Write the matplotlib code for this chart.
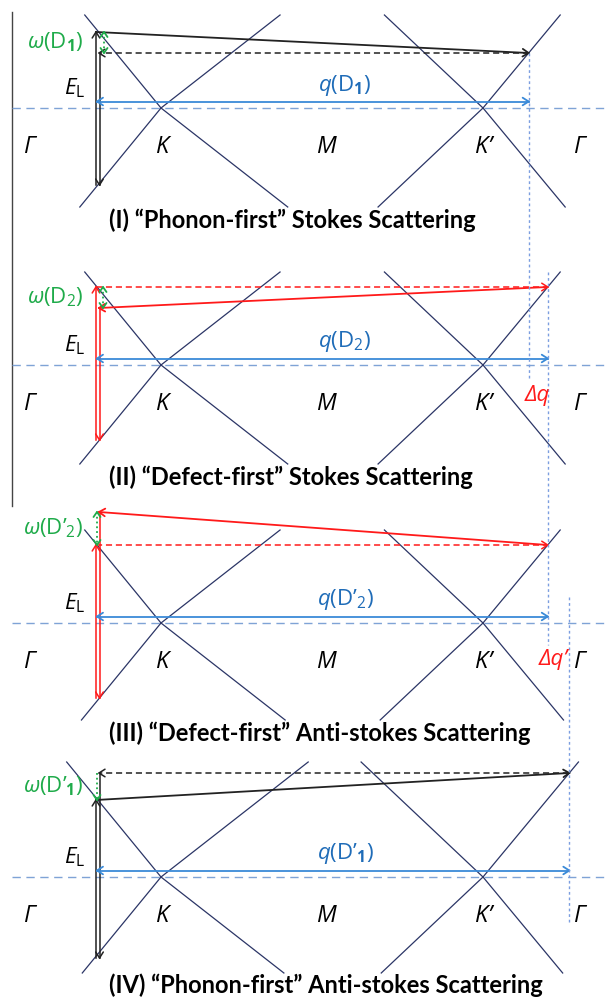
import numpy as np
import matplotlib.pyplot as plt

plt.rcParams['mathtext.fontset'] = 'custom'
plt.rcParams['mathtext.rm'] = 'Open Sans'
plt.rcParams['mathtext.it'] = 'Open Sans:italic'
plt.rcParams['mathtext.bf'] = 'Open Sans:bold'

# four panels, pixel units; energies are heights above each panel's dashed axis
titles = ['(I) “Phonon-first” Stokes Scattering',
          '(II) “Defect-first” Stokes Scattering',
          '(III) “Defect-first” Anti-stokes Scattering',
          '(IV) “Phonon-first” Anti-stokes Scattering']
omega_labels = [r'$\omega(\mathrm{D}_\mathbf{1})$', r'$\omega(\mathrm{D}_2)$',
                r'$\omega(\mathrm{D’}_2)$', r'$\omega(\mathrm{D’}_\mathbf{1})$']
q_labels = [r'$q(\mathrm{D}_\mathbf{1})$', r'$q(\mathrm{D}_2)$',
            r'$q(\mathrm{D’}_2)$', r'$q(\mathrm{D’}_\mathbf{1})$']
dq_labels = [None, 'Δq', 'Δq’', None]
point_labels = ['Γ', 'K', 'M', 'K’', 'Γ']

axis_y = [108, 365, 623, 877]
e_exc = [76, 78, 78, 77]        # laser excitation level
e_scat = [55, 57, 111, 104]     # level after phonon emission / absorption
e_bottom = [77, 75, 75, 81]     # valence level
defect_first = [False, True, True, False]
cone_top = [93, 93, 93, 115]
cone_bot = [99, 99, 97, 96]

# cone geometry: x of K, K' and horizontal/vertical ratio of each branch
k_x, kp_x = 161, 483
k_slope = (0.82, 1.28)      # Γ side, M side
kp_slope = (1.06, 0.83)     # M side, Γ side
label_x = [30, 163, 326, 484, 580]
left_x = 96

black = '#222222'
red = '#ff1a1a'
green = '#1fab4a'
blue = '#3a8ad8'
blue_txt = '#1f6cb8'
navy = '#2b3566'
guide = '#7fa3d6'
colors = [black, red, red, black]

fig = plt.figure(figsize=(6.06, 9.98), dpi=100)
ax = fig.add_axes([0, 0, 1, 1])
ax.set_xlim(0, 606)
ax.set_ylim(998, 0)
ax.axis('off')


def arrow(p0, p1, color, lw=1.0, ls='-', end=True, start=False, hl=6, hw=3.8):
    ax.plot([p0[0], p1[0]], [p0[1], p1[1]], color=color, lw=lw, ls=ls)
    heads = []
    if end:
        heads.append((p1, p0))
    if start:
        heads.append((p0, p1))
    for tip, base in heads:
        tip = np.array(tip, float)
        d = tip - np.array(base, float)
        d = d / np.hypot(*d)
        n = np.array([-d[1], d[0]])
        for s in (1, -1):
            w = tip - hl * d + s * hw * n
            ax.plot([w[0], tip[0]], [w[1], tip[1]], color=color, lw=lw,
                    solid_capstyle='round')


def kp_at(h):
    return kp_x + kp_slope[1] * h


# left frame line
ax.plot([12, 12], [12, 506], color='#444444', lw=1.0)

q_end = []
for i in range(4):
    y0 = axis_y[i]
    c = colors[i]
    # dashed axis
    ax.plot([12, 606], [y0, y0], color=guide, lw=1.0, ls=(0, (6, 4)))
    # cones
    t, b = cone_top[i], cone_bot[i]
    for x0, (sl, sr) in ((k_x, k_slope), (kp_x, kp_slope)):
        ax.plot([x0 - sl * t, x0, x0 + sr * b], [y0 - t, y0, y0 + b], color=navy, lw=0.9)
        ax.plot([x0 - sl * b, x0, x0 + sr * t], [y0 + b, y0, y0 - t], color=navy, lw=0.9)

    ye, ys, yb = y0 - e_exc[i], y0 - e_scat[i], y0 + e_bottom[i]
    # excitation and recombination
    arrow((left_x, yb), (left_x, ye), c, lw=1.1)
    arrow((left_x + 3.5, ys), (left_x + 3.5, yb), c, lw=1.1)
    if defect_first[i]:
        xq = kp_at(e_exc[i])
        arrow((left_x, ye), (xq, ye), c, lw=1.1, ls=(0, (4, 2.5)))
        arrow((xq, ye), (left_x + 3, ys), c, lw=1.3)
    else:
        xq = kp_at(e_scat[i])
        arrow((left_x, ye), (xq, ys), c, lw=1.3)
        arrow((xq, ys), (left_x + 3, ys), c, lw=1.1, ls=(0, (4, 2.5)))
    q_end.append(xq)

    # phonon energy
    gx = [104, 103, 97, 97][i]
    arrow((gx, ys), (gx, ye), green, lw=1.3, ls=':', start=(i != 3), hl=5, hw=3.5)
    ax.text(83, (ye + ys) / 2, omega_labels[i], color=green, fontsize=16,
            ha='right', va='center')
    ax.text(75, y0 - 20, r'$E_{\mathrm{L}}$', color='black', fontsize=16,
            ha='center', va='center')

    # phonon wave vector
    arrow((left_x + 1, y0 - 6.5), (xq, y0 - 6.5), blue, lw=1.3, start=True)
    ax.text(345, y0 - 23, q_labels[i], color=blue_txt, fontsize=16,
            ha='center', va='center')

    for lx, s in zip(label_x, point_labels):
        ax.text(lx, y0 + 39, s, fontsize=17, style='italic', family='Open Sans',
                ha='center', va='center', color='black')
    if dq_labels[i]:
        ax.text([0, 537, 553, 0][i], y0 + [0, 30, 37, 0][i], dq_labels[i], color=red,
                fontsize=16, style='italic', family='Open Sans', ha='center', va='center')
    ax.text(109, y0 + [112, 112, 110, 108][i], titles[i], fontsize=17,
            weight='bold', family='Lato', ha='left', va='center')

# vertical guides marking the q end points
spans = [(0, 53, 378), (1, 272, 645), (3, 597, 923)]
for src, ya, yb in spans:
    ax.plot([q_end[src], q_end[src]], [ya, yb], color='#7b9ee0', lw=1.0, ls=(0, (2, 2)))

fig.savefig('out.png', dpi=100)
